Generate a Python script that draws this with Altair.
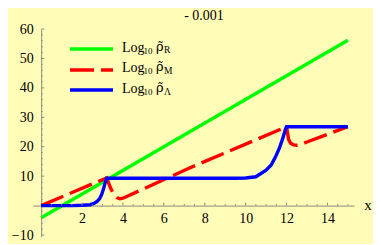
import altair as alt
import pandas as pd

# ---- data ----
green_x = [0, 15]
green_y = [-4.1, 56.2]

red_x = [0, 3.2, 3.3, 3.4, 3.5, 3.6, 3.7, 3.85, 4.0, 7.2, 12.0, 12.1, 12.2, 12.35, 12.5, 12.7, 13.0, 15.0]
red_y = [0, 9.4, 7.6, 5.9, 4.5, 3.4, 2.7, 2.3, 2.5, 12.6, 26.8, 22.5, 21.2, 20.6, 20.5, 20.8, 21.6, 26.8]

blue_x = [0, 1.5, 2.0, 2.4, 2.6, 2.75, 2.86, 2.96, 3.06, 3.13, 3.2, 6.0, 9.5, 10.0, 10.5, 11.0, 11.25,
          11.45, 11.65, 11.8, 11.95, 12.0, 15.0]
blue_y = [0, 0, 0.1, 0.3, 0.8, 1.5, 2.4, 3.8, 6.0, 7.8, 9.3, 9.3, 9.3, 9.4, 9.8, 12.0, 13.8,
          16.4, 19.5, 22.5, 26.0, 26.8, 26.8]

x_tick_labels = [2, 4, 6, 8, 10, 12, 14]
y_tick_labels = [-10, 10, 20, 30, 40, 50, 60]
x_minor_ticks = [v / 2 for v in range(1, 31) if v % 4 != 0]
y_minor_ticks = [v for v in range(-10, 61, 2) if v % 10 != 0]

legend_subscripts = ["R", "M", "\u039b"]
legend_colors = ["#00FF00", "#FF0000", "#0000FF"]
title_text = "- 0.001"
x_axis_label = "x"

# ---- layout ----
W, H = 321, 207.5
XDOM = [-0.4, 15.3]
YDOM = [-10.5, 60]
PX, PY = 33, 29  # page position of plot origin
FONT = "Liberation Serif"
AXC = "#8c8c80"

ppx = W / (XDOM[1] - XDOM[0])
ppy = H / (YDOM[1] - YDOM[0])
y0_px = (YDOM[1] - 0) * ppy
x0_px = (0 - XDOM[0]) * ppx

xs = alt.Scale(domain=XDOM, nice=False, zero=False)
ys = alt.Scale(domain=YDOM, nice=False, zero=False)

xaxis = alt.Axis(values=x_tick_labels, offset=-(H - y0_px), ticks=False, tickSize=0,
                 labelPadding=6, labelFont=FONT, labelFontSize=14, labelColor="black",
                 domainColor=AXC, domainWidth=1, grid=False, title="", labelFlush=False)
yaxis = alt.Axis(values=y_tick_labels, offset=-x0_px, ticks=False, tickSize=0,
                 labelPadding=8, labelFont=FONT, labelFontSize=14, labelColor="black",
                 domainColor=AXC, domainWidth=1, grid=False, title="", labelFlush=False,
                 labelExpr="datum.value < 0 ? '\u2212' + abs(datum.value) : datum.label")


def X(f="x"):
    return alt.X(f"{f}:Q", scale=xs, axis=xaxis)


def Y(f="y"):
    return alt.Y(f"{f}:Q", scale=ys, axis=yaxis)


def line(xv, yv, color, dash=None):
    df = pd.DataFrame({"x": xv, "y": yv, "i": range(len(xv))})
    kw = dict(color=color, strokeWidth=3.4)
    if dash:
        kw["strokeDash"] = dash
    return alt.Chart(df).mark_line(**kw).encode(x=X(), y=Y(), order="i:Q")


green = line(green_x, green_y, legend_colors[0])
red = line(red_x, red_y, legend_colors[1], dash=[24, 7])
blue = line(blue_x, blue_y, legend_colors[2])

# inward ticks
maj_x = 3 / ppy
min_x = 1.5 / ppy
maj_y = 3 / ppx
min_y = 1.5 / ppx
xt = pd.DataFrame({"x": x_tick_labels + x_minor_ticks,
                   "y": [0] * (len(x_tick_labels) + len(x_minor_ticks)),
                   "y2": [maj_x] * len(x_tick_labels) + [min_x] * len(x_minor_ticks)})
yt = pd.DataFrame({"y": y_tick_labels + y_minor_ticks,
                   "x": [0] * (len(y_tick_labels) + len(y_minor_ticks)),
                   "x2": [maj_y] * len(y_tick_labels) + [min_y] * len(y_minor_ticks)})
xticks = alt.Chart(xt).mark_rule(color=AXC, strokeWidth=1).encode(x=X(), y=Y(), y2="y2:Q")
yticks = alt.Chart(yt).mark_rule(color=AXC, strokeWidth=1).encode(x=X(), x2="x2:Q", y=Y())

# legend
layers = [green, red, blue, xticks, yticks]
line_rows = [49, 70, 90]
text_rows = [51.5, 72, 93]
one = pd.DataFrame({"a": [0]})


def txt(x, y, s, size, align="left", font=FONT):
    return alt.Chart(one).mark_text(font=font, fontSize=size, align=align, baseline="alphabetic",
                                    color="black").encode(
        x=alt.value(x - PX), y=alt.value(y - PY), text=alt.value(s))


for i in range(3):
    ly = line_rows[i] - PY
    kw = dict(color=legend_colors[i], strokeWidth=3.4)
    if i == 1:
        kw["strokeDash"] = [24, 7]
    layers.append(alt.Chart(one).mark_rule(**kw).encode(
        x=alt.value(70 - PX), x2=alt.value(113 - PX), y=alt.value(ly)))
    tb = text_rows[i]
    layers.append(txt(122, tb, "Log", 14))
    layers.append(txt(143.5, tb + 2, "10", 9))
    layers.append(txt(156, tb - 1, "\u03c1\u0303", 13, font="DejaVu Serif"))
    layers.append(txt(164, tb + 1.5, legend_subscripts[i], 9.5))

layers.append(txt(204, 19.5, title_text, 14, "center"))
layers.append(txt(368, 209.5, x_axis_label, 15, "center"))

chart = alt.layer(*layers).properties(
    width=W, height=H,
    autosize=alt.AutoSizeParams(type="none"),
    padding={"left": PX - 8, "top": PY - 8, "right": 365 - (PX - 8) - W, "bottom": 7},
    background="#FFFCB8",
).configure_view(strokeWidth=0)

chart.save("out.html", embed_options={"renderer": "svg", "actions": False})
